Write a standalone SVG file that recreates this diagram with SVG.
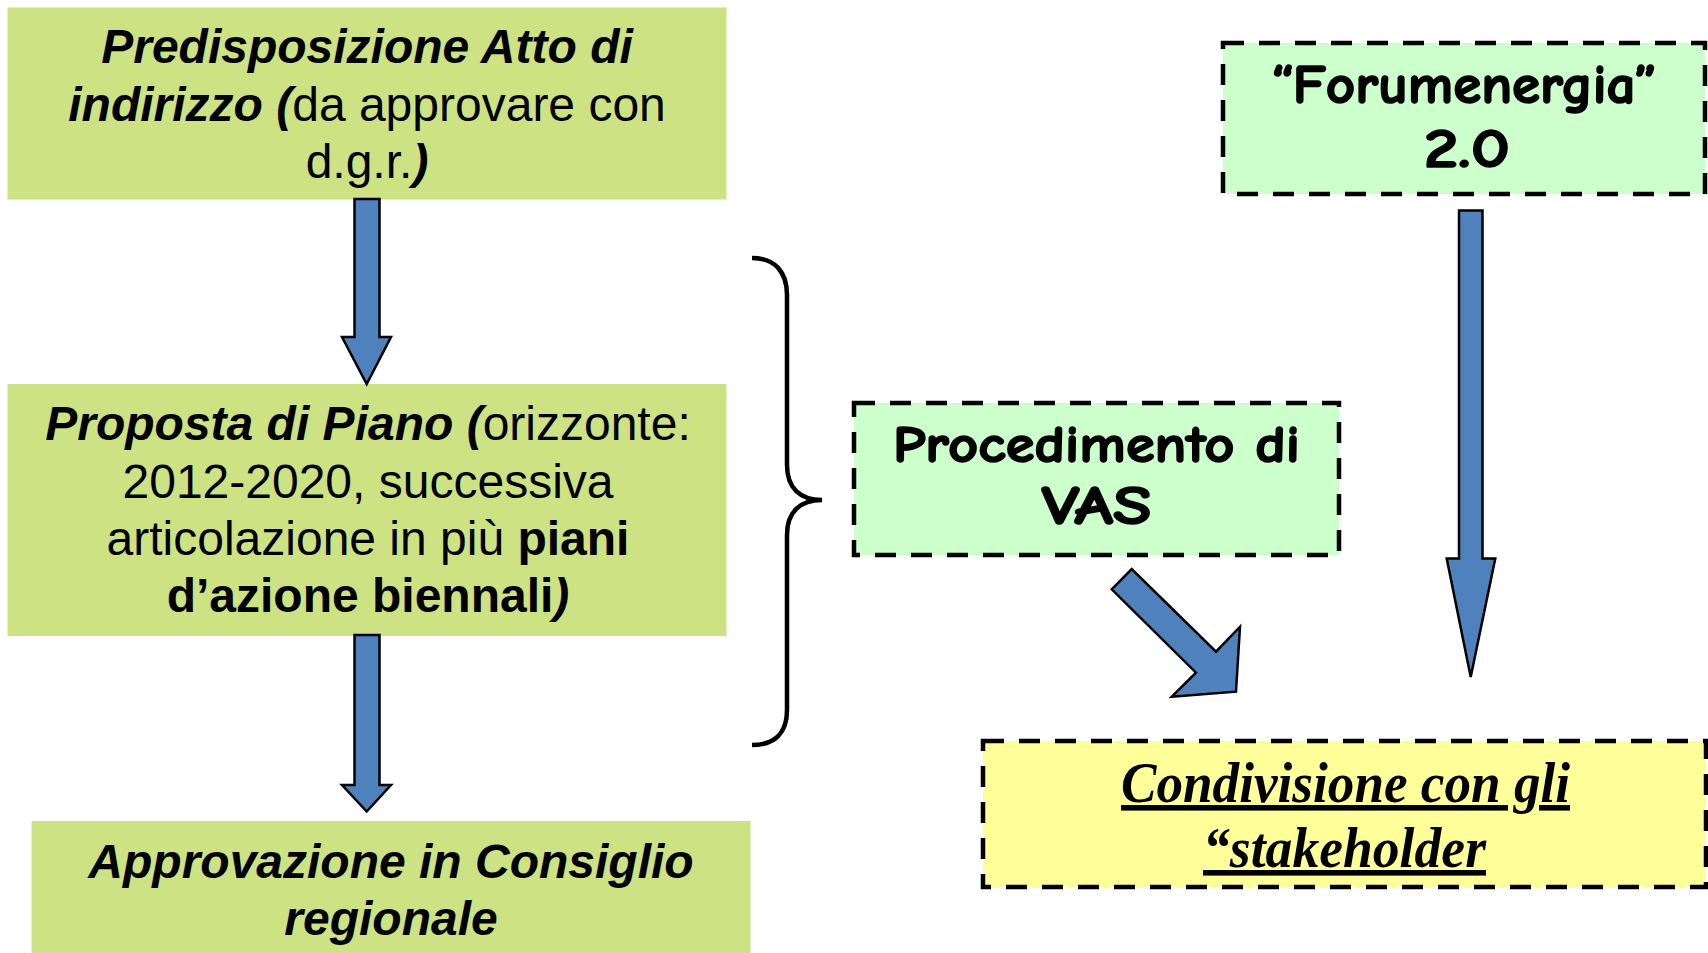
<svg xmlns="http://www.w3.org/2000/svg" width="1708" height="953" viewBox="0 0 1708 953">
<style>
.g{fill:#CDE383;}
.dash{stroke:#000;stroke-width:4.5;stroke-dasharray:21 15;}
.arr{fill:#4F81BD;stroke:#000;stroke-width:2.5;stroke-linejoin:miter;}
.sans{font-family:"Liberation Sans",Arial,sans-serif;font-size:48px;fill:#000;}
.bi{font-weight:bold;font-style:italic;}
.b{font-weight:bold;}
.comic{font-family:"Comic Sans MS","Comic Neue","Noto Sans",sans-serif;font-weight:bold;fill:#000;stroke:#000;stroke-width:1.6;stroke-linejoin:round;}
.serif{font-family:"Liberation Serif","Times New Roman",serif;font-weight:bold;font-style:italic;font-size:56px;text-decoration:underline;fill:#000;}
</style>
<rect width="1708" height="953" fill="#fff"/>
<g id="node-predisposizione">
<rect class="g" x="7.5" y="7.5" width="719" height="192"/>
<text class="sans" x="367" y="63" text-anchor="middle"><tspan class="bi">Predisposizione Atto di</tspan></text>
<text class="sans" x="367" y="121" text-anchor="middle"><tspan class="bi">indirizzo (</tspan>da approvare con</text>
<text class="sans" x="367" y="178" text-anchor="middle">d.g.r.<tspan class="bi">)</tspan></text>
</g>
<g id="node-proposta">
<rect class="g" x="7.5" y="384" width="719" height="252"/>
<text class="sans" x="368" y="440" text-anchor="middle"><tspan class="bi">Proposta di Piano (</tspan>orizzonte:</text>
<text class="sans" x="368" y="498" text-anchor="middle">2012-2020, successiva</text>
<text class="sans" x="368" y="555" text-anchor="middle">articolazione in più <tspan class="b">piani</tspan></text>
<text class="sans" x="368" y="612" text-anchor="middle"><tspan class="b">d’azione biennali</tspan><tspan class="bi">)</tspan></text>
</g>
<g id="node-approvazione">
<rect class="g" x="31.5" y="821" width="719" height="132"/>
<text class="sans bi" x="391" y="878" text-anchor="middle">Approvazione in Consiglio</text>
<text class="sans bi" x="391" y="935" text-anchor="middle">regionale</text>
</g>
<g id="node-vas">
<rect class="dash" fill="#CCFFCC" x="854" y="403" width="485" height="152"/>
<text class="comic" x="1096.5" y="462" font-size="52" text-anchor="middle" textLength="407" lengthAdjust="spacingAndGlyphs">Procedimento di</text>
<text class="comic" x="1096.5" y="524" font-size="54" text-anchor="middle" textLength="110" lengthAdjust="spacingAndGlyphs">VAS</text>
</g>
<g id="node-forumenergia">
<rect class="dash" fill="#CCFFCC" x="1223" y="43" width="482" height="151"/>
<text class="comic" x="1464" y="103" font-size="54" text-anchor="middle" textLength="385" lengthAdjust="spacingAndGlyphs">“Forumenergia”</text>
<text class="comic" x="1467" y="167" font-size="54" text-anchor="middle" textLength="86" lengthAdjust="spacingAndGlyphs">2.0</text>
</g>
<g id="node-condivisione">
<rect class="dash" fill="#FFFF99" x="983" y="741" width="723" height="146"/>
<text class="serif" x="1345.5" y="802" text-anchor="middle" textLength="449" lengthAdjust="spacingAndGlyphs">Condivisione con gli</text>
<text class="serif" x="1344.5" y="867" text-anchor="middle" textLength="283" lengthAdjust="spacingAndGlyphs">“stakeholder</text>
</g>
<g id="connectors">
<polygon class="arr" points="354.5,199 379.5,199 379.5,337 391,337 366.7,384 342,337 354.5,337"/>
<polygon class="arr" points="354.5,635 379.5,635 379.5,785 391,785 366.7,811.5 342,785 354.5,785"/>
<polygon class="arr" points="1459,210.5 1482.5,210.5 1482.5,558.5 1495.3,558.5 1470.7,677 1446.7,558.5 1459,558.5"/>
<polygon class="arr" points="1111.7,589.3 1131.7,569 1216,651.7 1240,626.7 1236,691.7 1171.7,696.7 1196,672.7"/>
<path d="M752,258 C775,258 787,272 787,295 L787,465 C787,488 800,500 822,500 C800,500 787,512 787,535 L787,710 C787,733 775,745 752,745" fill="none" stroke="#000" stroke-width="4.5"/>
</g>
</svg>
